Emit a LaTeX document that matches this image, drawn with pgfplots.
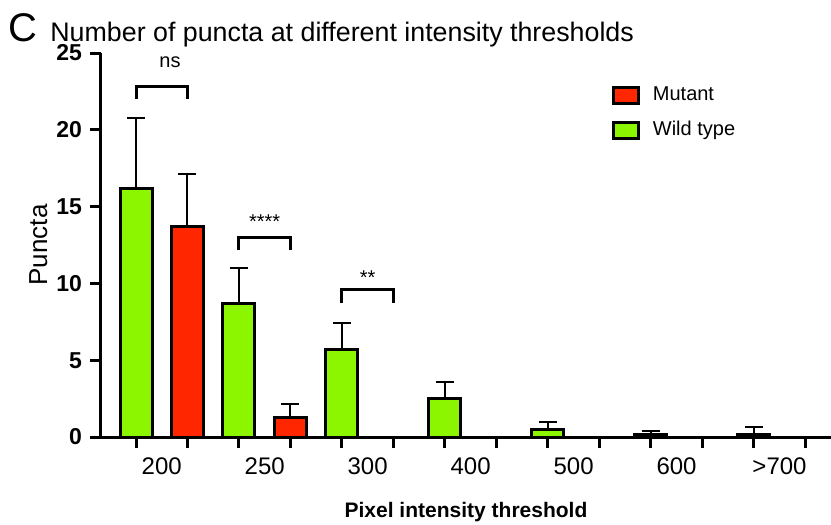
\documentclass[border=0pt]{standalone}
\usepackage{fontspec}
\setmainfont{Liberation Sans}
\usepackage{pgfplots}
\pgfplotsset{compat=1.18}
\usetikzlibrary{calc}
\definecolor{mutred}{HTML}{FF2600}
\definecolor{wtgreen}{HTML}{8CF500}
\pgfplotsset{
  barlegend/.style={legend image code/.code={\draw[##1, line width=1.5pt] (0pt,-4pt) rectangle (12.5pt,4pt); \path (17pt,0pt);}},
  gpbar/.style={ybar, bar width=16pt, bar shift=0pt, draw=black, line width=1.5pt, barlegend,
    error bars/.cd, y dir=plus, y explicit,
    error bar style={line width=1pt, black},
    error mark options={rotate=90, line width=1pt, mark size=4.5pt, black}},
}

% bars: wild type at even x, mutant at odd x; e = upper error (SD)
\begin{document}
\begin{tikzpicture}
\begin{axis}[
  scale only axis, width=365pt, height=192pt,
  xmin=-0.68, xmax=13.5, ymin=0, ymax=25,
  axis x line=bottom, axis y line=left,
  axis line style={-, line width=1.5pt, black},
  clip=false,
  xtick={0,...,13}, xticklabels={},
  extra x ticks={0.5,2.5,4.5,6.5,8.5,10.5,12.5},
  extra x tick labels={200,250,300,400,500,600,>700},
  extra x tick style={major tick length=0pt,
    xticklabel style={font=\fontsize{12}{12}\selectfont, yshift=-7pt}},
  ytick={0,5,...,25},
  yticklabel style={font=\bfseries\fontsize{11.5}{11.5}\selectfont, inner sep=1pt, xshift=-2.8pt},
  /pgf/number format/assume math mode=true,
  tick align=outside, major tick length=5.5pt,
  tick style={line width=1.5pt, black},
  xlabel={\bfseries Pixel intensity threshold},
  xlabel style={font=\fontsize{10.5}{10.5}\selectfont, yshift=-1pt},
  ylabel={Puncta},
  ylabel style={font=\fontsize{13}{13}\selectfont},
  legend style={at={(axis cs:9.12,23.35)}, anchor=north west, draw=none, fill=none,
    font=\fontsize{10}{12}\selectfont, row sep=5pt},
  legend cell align=left,
]
\addplot[fill=mutred, gpbar] table[x=x, y=y, y error=e] {
x y e
1 13.7 3.4
3 1.3 0.85
5 0 0
7 0 0
9 0 0
11 0 0
13 0 0
};
\addlegendentry{Mutant}
\addplot[fill=wtgreen, gpbar] table[x=x, y=y, y error=e] {
x y e
0 16.2 4.6
2 8.7 2.3
4 5.7 1.7
6 2.5 1.1
8 0.5 0.46
10 0.15 0.25
12 0.15 0.5
};
\addlegendentry{Wild type}
% significance brackets
\draw[line width=1.5pt] (axis cs:0,22.0) -- (axis cs:0,22.8) -- (axis cs:1,22.8) -- (axis cs:1,22.0);
\node[font=\fontsize{10}{10}\selectfont] at (axis cs:0.66,24.4) {ns};
\draw[line width=1.5pt] (axis cs:2,12.2) -- (axis cs:2,13.0) -- (axis cs:3,13.0) -- (axis cs:3,12.2);
\node[font=\fontsize{10}{10}\selectfont] at (axis cs:2.5,14.0) {****};
\draw[line width=1.5pt] (axis cs:4,8.7) -- (axis cs:4,9.6) -- (axis cs:5,9.6) -- (axis cs:5,8.7);
\node[font=\fontsize{10}{10}\selectfont] at (axis cs:4.5,10.4) {**};
\coordinate (bl) at (rel axis cs:0,0);
\coordinate (tl) at (rel axis cs:0,1);
\end{axis}
\node[anchor=base west, inner sep=0pt, font=\fontsize{20}{20}\selectfont] at ($(tl)+(-46.5pt,6pt)$) {C};
\node[anchor=base west, inner sep=0pt, font=\fontsize{13.4}{13.4}\selectfont] at ($(tl)+(-25.5pt,6pt)$) {Number of puncta at different intensity thresholds};
\pgfresetboundingbox
\path[use as bounding box] ($(bl)+(-50.5pt,-44pt)$) rectangle ($(bl)+(365pt,218.5pt)$);
\end{tikzpicture}
\end{document}
